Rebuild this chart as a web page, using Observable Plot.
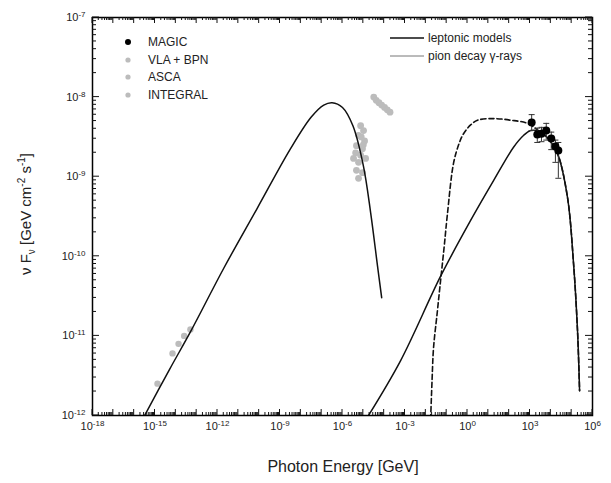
<!DOCTYPE html>
<html><head><meta charset="utf-8">
<script src="https://cdn.jsdelivr.net/npm/d3@7"></script>
<script src="https://cdn.jsdelivr.net/npm/@observablehq/plot@0.6"></script>
<style>
body{margin:0;background:#fff;}
#chart{width:611px;height:483px;}
</style></head><body><div id="chart"></div>
<script>
// ---- tick labels (exponents of 10) ----
const xTickExp = [-18, -15, -12, -9, -6, -3, 0, 3, 6];
const yTickExp = [-12, -11, -10, -9, -8, -7];

// ---- leptonic model: synchrotron bump (log10 E [GeV], log10 nuFnu) ----
const synLogE = [-15.6, -14.3, -13.3, -11.7, -10.1, -8.5, -7.5, -6.9, -6.5, -6.0, -5.5, -5.0, -4.65, -4.32, -4.12];
const synLogF = [-12.05, -11.42, -10.95, -10.15, -9.40, -8.65, -8.25, -8.10, -8.07, -8.13, -8.36, -8.86, -9.45, -10.12, -10.52];

// ---- leptonic model: inverse Compton bump ----
const icLogE = [-4.8, -3.21, -1.29, 0.15, 1.25, 2.21, 2.7, 3.03, 3.45, 3.84, 4.32, 4.80, 5.09, 5.28, 5.38];
const icLogF = [-12.02, -11.31, -10.25, -9.55, -9.05, -8.63, -8.48, -8.42, -8.43, -8.51, -8.71, -9.26, -10.09, -10.93, -11.69];

// ---- pion decay gamma-rays ----
const pionLogE = [-1.77, -1.70, -1.63, -1.45, -1.29, -1.12, -0.96, -0.67, -0.40, -0.19, 0.15, 0.48, 1.25, 2.07, 2.88, 3.45, 3.84, 4.32, 4.80, 5.09, 5.28, 5.38];
const pionLogF = [-12.05, -11.55, -11.15, -10.70, -10.30, -9.88, -9.46, -8.83, -8.58, -8.46, -8.35, -8.29, -8.27, -8.29, -8.33, -8.43, -8.51, -8.71, -9.26, -10.09, -10.93, -11.69];

// ---- MAGIC ----
const magicLogE = [3.08, 3.35, 3.55, 3.78, 4.02, 4.22, 4.36];
const magicLogF = [-8.32, -8.47, -8.46, -8.42, -8.52, -8.62, -8.67];
const magicErrUp = [0.10, 0.08, 0.08, 0.09, 0.08, 0.08, 0.10];
const magicErrDn = [0.10, 0.10, 0.10, 0.12, 0.14, 0.20, 0.35];

// ---- VLA + BPN ----
const vlaLogE = [-14.88, -14.16, -13.87, -13.6, -13.3];
const vlaLogF = [-11.60, -11.22, -11.10, -11.0, -10.92];

// ---- ASCA ----
const ascaLogE = [-5.13, -4.99, -5.23, -4.94, -5.33, -5.04, -5.37, -5.13, -4.89, -5.47, -5.23, -5.33, -5.04, -5.23, -5.10, -5.00];
const ascaLogF = [-8.36, -8.42, -8.48, -8.55, -8.61, -8.65, -8.70, -8.73, -8.77, -8.77, -8.82, -8.92, -8.95, -9.02, -8.50, -8.60];

// ---- INTEGRAL ----
const integralLogE = [-4.5, -4.38, -4.25, -4.12, -3.98, -3.85, -3.72];
const integralLogF = [-8.0, -8.04, -8.07, -8.10, -8.13, -8.16, -8.19];

// ---- legends ----
const pointLegend = ["MAGIC", "VLA + BPN", "ASCA", "INTEGRAL"];
const lineLegend = ["leptonic models", "pion decay \u03B3-rays"];

// ---------------------------------------------------------
const toPts = (le, lf) => le.map((e, i) => ({x: 10 ** e, y: 10 ** lf[i]}));
const syn = toPts(synLogE, synLogF);
const ic = toPts(icLogE, icLogF);
const pion = toPts(pionLogE, pionLogF);
const vla = toPts(vlaLogE, vlaLogF);
const asca = toPts(ascaLogE, ascaLogF);
const integral = toPts(integralLogE, integralLogF);
const magic = magicLogE.map((e, i) => ({
  x: 10 ** e, y: 10 ** magicLogF[i],
  y1: 10 ** (magicLogF[i] - magicErrDn[i]), y2: 10 ** (magicLogF[i] + magicErrUp[i])
}));
const caps = magic.flatMap(d => [{x: d.x, y: d.y1}, {x: d.x, y: d.y2}]);

const xMin = 10 ** xTickExp[0], xMax = 10 ** xTickExp[xTickExp.length - 1];
const yMin = 10 ** yTickExp[0], yMax = 10 ** yTickExp[yTickExp.length - 1];

// tick positions (major each decade, minor 2..9)
const xMajor = d3.range(xTickExp[0], xTickExp[xTickExp.length - 1] + 1).map(e => 10 ** e);
const xMinor = d3.range(xTickExp[0], xTickExp[xTickExp.length - 1]).flatMap(e => d3.range(2, 10).map(m => m * 10 ** e));
const yMajor = yTickExp.map(e => 10 ** e);
const yMinor = d3.range(yTickExp[0], yTickExp[yTickExp.length - 1]).flatMap(e => d3.range(2, 10).map(m => m * 10 ** e));

const hline = {draw(ctx, size) { const r = Math.sqrt(size / Math.PI); ctx.moveTo(-r, 0); ctx.lineTo(r, 0); }};

const fmt = d => "10^" + Math.round(Math.log10(d));
const grey = "#bcbcbc";

const plot = Plot.plot({
  width: 611, height: 483,
  marginLeft: 92, marginRight: 19, marginTop: 17, marginBottom: 68,
  x: {type: "log", domain: [xMin, xMax]},
  y: {type: "log", domain: [yMin, yMax]},
  style: {fontFamily: "'Liberation Sans', Arial, sans-serif", fontSize: "11px", color: "#222", background: "#fff"},
  marks: [
    Plot.axisX({ticks: xTickExp.map(e => 10 ** e), tickSize: 0, tickPadding: 7, tickFormat: fmt, label: null}),
    Plot.axisY({ticks: yTickExp.map(e => 10 ** e), tickSize: 0, tickPadding: 7, tickFormat: fmt, label: null}),
    Plot.dot(vla, {x: "x", y: "y", r: 3.2, fill: grey}),
    Plot.dot(asca, {x: "x", y: "y", r: 3.4, fill: grey}),
    Plot.dot(integral, {x: "x", y: "y", r: 3.4, fill: grey}),
    Plot.line(syn, {x: "x", y: "y", stroke: "#111", strokeWidth: 1.5, curve: "catmull-rom", clip: true}),
    Plot.line(ic, {x: "x", y: "y", stroke: "#111", strokeWidth: 1.5, curve: "catmull-rom", clip: true}),
    Plot.line(pion, {x: "x", y: "y", stroke: "#111", strokeWidth: 1.6, strokeDasharray: "5,3", curve: "catmull-rom", clip: true}),
    Plot.ruleX(magic, {x: "x", y1: "y1", y2: "y2", stroke: "#333", strokeWidth: 1}),
    Plot.dot(caps, {x: "x", y: "y", r: 3, symbol: hline, stroke: "#333", strokeWidth: 1}),
    Plot.dot(magic, {x: "x", y: "y", r: 4, fill: "#000"}),
    Plot.frame({stroke: "#000", strokeWidth: 1.5})
  ]
});

document.getElementById("chart").appendChild(plot);
const svg = d3.select(plot);
const sx = plot.scale("x"), sy = plot.scale("y");
const X0 = sx.apply(xMin), X1 = sx.apply(xMax), Y0 = sy.apply(yMin), Y1 = sy.apply(yMax);

// inward ticks on all four sides, positioned with the plot's scales
const tg = svg.append("g").attr("stroke", "#111").attr("stroke-width", 1);
const addX = (vals, len) => vals.forEach(v => {
  const px = sx.apply(v);
  tg.append("line").attr("x1", px).attr("x2", px).attr("y1", Y0).attr("y2", Y0 - len);
  tg.append("line").attr("x1", px).attr("x2", px).attr("y1", Y1).attr("y2", Y1 + len);
});
const addY = (vals, len) => vals.forEach(v => {
  const py = sy.apply(v);
  tg.append("line").attr("y1", py).attr("y2", py).attr("x1", X0).attr("x2", X0 + len);
  tg.append("line").attr("y1", py).attr("y2", py).attr("x1", X1).attr("x2", X1 - len);
});
addX(xMinor, 3); addX(xMajor, 6); addY(yMinor, 4); addY(yMajor, 7);

// superscript tick labels
svg.selectAll('g[aria-label="x-axis tick label"] text, g[aria-label="y-axis tick label"] text').each(function () {
  const t = d3.select(this);
  const [b, e] = t.text().split("^");
  t.text(null);
  t.append("tspan").text(b);
  t.append("tspan").attr("dy", "-0.5em").attr("font-size", "8px").text(e);
});

// axis titles
const font = "'Liberation Sans', Arial, sans-serif";
svg.append("text").attr("x", 343).attr("y", 472).attr("text-anchor", "middle")
  .attr("font-family", font).attr("font-size", 16).attr("fill", "#222").text("Photon Energy [GeV]");

const yt = svg.append("text").attr("transform", "translate(31,214) rotate(-90)").attr("text-anchor", "middle")
  .attr("font-family", font).attr("font-size", 15).attr("fill", "#222");
yt.append("tspan").text("\u03BD F");
yt.append("tspan").attr("dy", 4).attr("font-size", 10).text("\u03BD");
yt.append("tspan").attr("dy", -4).text(" [GeV cm");
yt.append("tspan").attr("dy", -6).attr("font-size", 10).text("-2");
yt.append("tspan").attr("dy", 6).text(" s");
yt.append("tspan").attr("dy", -6).attr("font-size", 10).text("-1");
yt.append("tspan").attr("dy", 6).text("]");

// point legend
const lg = svg.append("g").attr("font-family", font).attr("font-size", 12).attr("fill", "#222").attr("text-anchor", "start");
const legendY = [42, 60, 77, 95];
pointLegend.forEach((name, i) => {
  lg.append("circle").attr("cx", 128).attr("cy", legendY[i]).attr("r", i === 0 ? 3 : 2.6)
    .attr("fill", i === 0 ? "#000" : grey);
  lg.append("text").attr("x", 148).attr("y", legendY[i]).attr("dy", "0.36em").text(name);
});

// line legend
const lineY = [38, 56];
lineLegend.forEach((name, i) => {
  lg.append("line").attr("x1", 390).attr("x2", 424).attr("y1", lineY[i]).attr("y2", lineY[i])
    .attr("stroke", i === 0 ? "#111" : "#777").attr("stroke-width", i === 0 ? 1.4 : 1);
  lg.append("text").attr("x", 428).attr("y", lineY[i]).attr("dy", "0.36em").text(name);
});
</script>
</body></html>
